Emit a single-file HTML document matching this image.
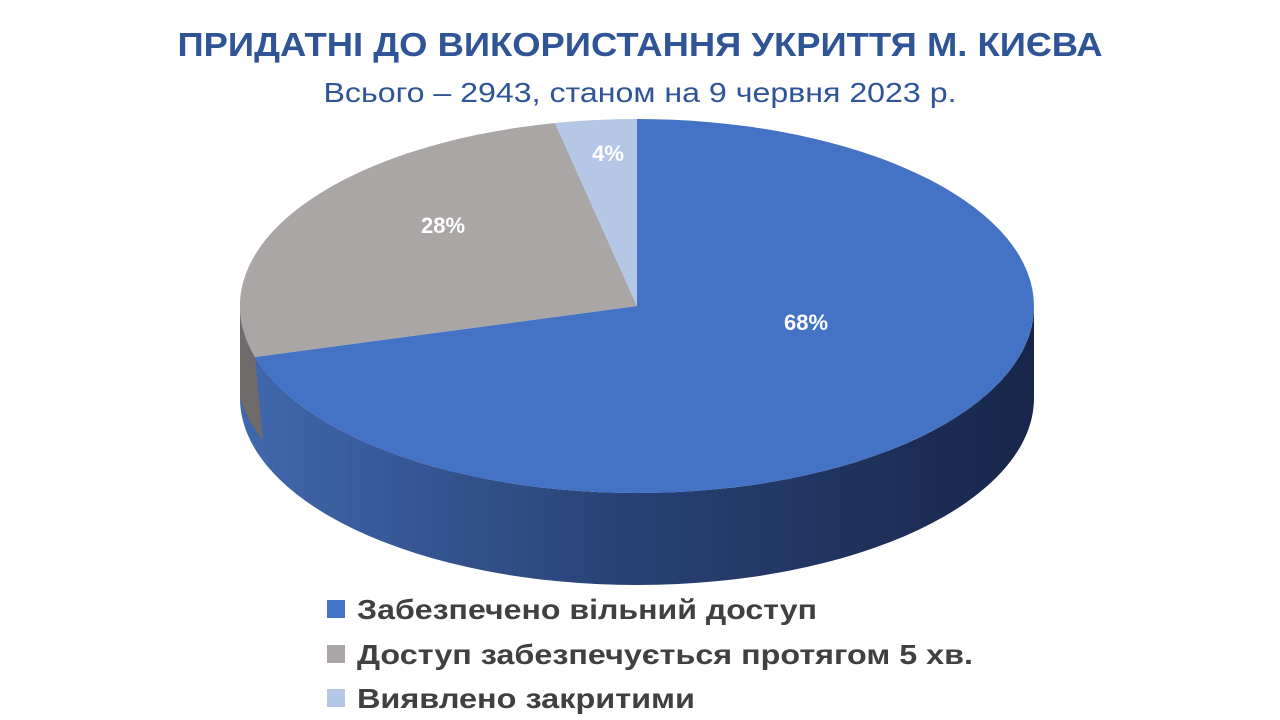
<!DOCTYPE html>
<html><head><meta charset="utf-8"><style>
html,body{margin:0;padding:0;background:#fff;width:1280px;height:720px;overflow:hidden}
</style></head><body>
<svg width="1280" height="720" xmlns="http://www.w3.org/2000/svg" font-family="Liberation Sans, sans-serif">
<defs>
<linearGradient id="g" x1="240" y1="0" x2="1034" y2="0" gradientUnits="userSpaceOnUse">
<stop offset="0" stop-color="#4068ad"/><stop offset="0.45" stop-color="#2a4478"/><stop offset="1" stop-color="#17264a"/>
</linearGradient>
</defs>
<text x="640" y="56" text-anchor="middle" font-size="33" font-weight="bold" fill="#2f5597" textLength="925" lengthAdjust="spacingAndGlyphs">ПРИДАТНІ ДО ВИКОРИСТАННЯ УКРИТТЯ М. КИЄВА</text>
<text x="640" y="102" text-anchor="middle" font-size="28" fill="#2f5597" textLength="633" lengthAdjust="spacingAndGlyphs">Всього – 2943, станом на 9 червня 2023 р.</text>
<path d="M240,306 A397,187 0 0 0 1034,306 L1034,398 A397,187 0 0 1 240,398 Z" fill="url(#g)"/>
<path d="M240,306 A397,187 0 0 0 255,357 L263,440 A397,187 0 0 1 240,398 Z" fill="#6e6b6a"/>
<path d="M637,306 L637,119 A397,187 0 1 1 255,357 Z" fill="#4472c4"/>
<path d="M637,306 L255,357 A397,187 0 0 1 555,123 Z" fill="#a9a6a5"/>
<path d="M637,306 L555,123 A397,187 0 0 1 637,119 Z" fill="#b4c7e7"/>
<g fill="#fff" font-weight="bold" font-size="22" text-anchor="middle">
<text x="806" y="330">68%</text><text x="443" y="233">28%</text><text x="608" y="161">4%</text>
</g>
<rect x="327" y="600" width="18" height="18" fill="#4472c4"/>
<rect x="327" y="645" width="18" height="18" fill="#a9a6a5"/>
<rect x="327" y="689" width="18" height="18" fill="#b4c7e7"/>
<g fill="#404040" font-weight="bold" font-size="28">
<text x="357" y="619" textLength="460" lengthAdjust="spacingAndGlyphs">Забезпечено вільний доступ</text>
<text x="357" y="664" textLength="616" lengthAdjust="spacingAndGlyphs">Доступ забезпечується протягом 5 хв.</text>
<text x="357" y="708" textLength="338" lengthAdjust="spacingAndGlyphs">Виявлено закритими</text>
</g>
</svg>
</body></html>
